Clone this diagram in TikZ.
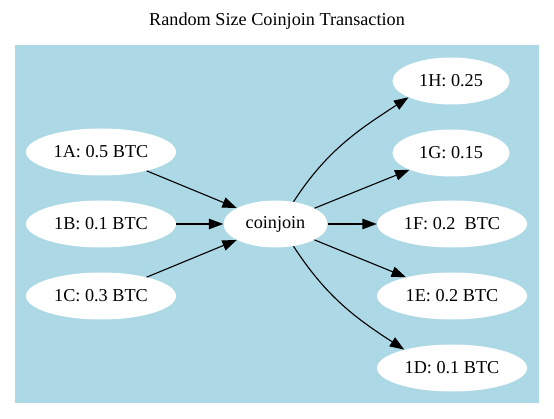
\documentclass[tikz,border=0pt]{standalone}
\usepackage{fontspec}
\setmainfont{Liberation Serif}
\usetikzlibrary{shapes.geometric,arrows.meta}
\definecolor{gvlightblue}{HTML}{ADD8E6}
\begin{document}
\begin{tikzpicture}[x=1pt,y=-1pt,
  every node/.style={font=\fontsize{18.2}{21}\selectfont},
  coin/.style={ellipse,fill=white,draw=none,inner sep=0pt,minimum height=47pt,minimum width=150pt},
  link/.style={line width=1.1pt,-{Triangle[length=14.5pt,width=10.5pt]}}]
\useasboundingbox (0,0) rectangle (554,419);
\fill[gvlightblue] (15,45) rectangle (539,403);
\node (title) at (277,21) {Random Size Coinjoin Transaction};
\node[coin] (A) at (101,152) {1A: 0.5 BTC};
\node[coin] (B) at (101,224) {1B: 0.1 BTC};
\node[coin] (C) at (101,296) {1C: 0.3 BTC};
\node[coin,minimum width=104pt] (J) at (275.5,224) {coinjoin};
\node[coin,minimum width=117pt] (H) at (451,81) {1H: 0.25};
\node[coin,minimum width=117pt] (G) at (451,153) {1G: 0.15};
\node[coin] (F) at (452,224) {1F: 0.2\ \ BTC};
\node[coin] (E) at (452,296) {1E: 0.2 BTC};
\node[coin] (D) at (452,368) {1D: 0.1 BTC};
\draw[link] (A) -- (J);
\draw[link] (B) -- (J);
\draw[link] (C) -- (J);
\draw[link] (J.51) to[out=57,in=-147] (H.201);
\draw[link] (J) -- (G);
\draw[link] (J) -- (F);
\draw[link] (J) -- (E);
\draw[link] (J.-51) to[out=-57,in=147] (D.159);
\end{tikzpicture}
\end{document}
